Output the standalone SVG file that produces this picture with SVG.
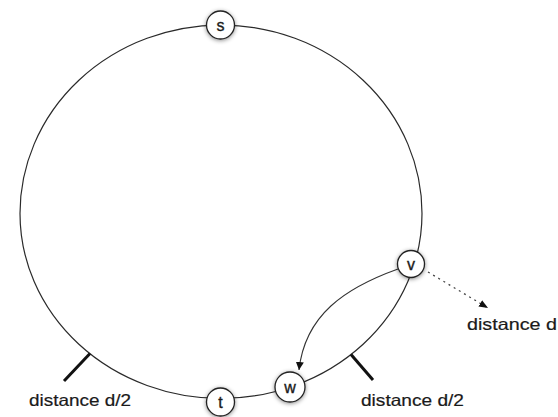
<svg xmlns="http://www.w3.org/2000/svg" width="558" height="417" viewBox="0 0 558 417">
  <style>
    .ring { fill: none; stroke: #2a2a2a; stroke-width: 1.2; }
    .tick { stroke: #111; stroke-width: 3; stroke-linecap: butt; }
    .node circle { fill: #fff; stroke: #222; stroke-width: 1.3; filter: url(#shadow); }
    .node text { font-family: "Liberation Sans", Arial, sans-serif; font-size: 16px; fill: #1a1a1a; stroke: #1a1a1a; stroke-width: 0.35; text-anchor: middle; }
    .label { font-family: "Liberation Sans", Arial, sans-serif; font-size: 16.5px; fill: #1a1a1a; stroke: #1a1a1a; stroke-width: 0.2; }
    .edge { fill: none; stroke: #333; stroke-width: 1.1; }
    .dotted { fill: none; stroke: #444; stroke-width: 1.3; stroke-dasharray: 2 4; }
  </style>
  <defs>
    <filter id="shadow" x="-50%" y="-50%" width="200%" height="200%">
      <feDropShadow dx="0" dy="1" stdDeviation="2" flood-color="#000" flood-opacity="0.45"/>
    </filter>
    <marker id="arrow" viewBox="0 0 10 10" refX="10" refY="5" markerWidth="8" markerHeight="8" markerUnits="userSpaceOnUse" orient="auto">
      <path d="M0,0 L10,5 L0,10 Z" fill="#111"/>
    </marker>
    <marker id="arrow2" viewBox="0 0 10 10" refX="10" refY="5" markerWidth="9" markerHeight="9" markerUnits="userSpaceOnUse" orient="auto">
      <path d="M0,1 L10,5 L0,9 Z" fill="#111"/>
    </marker>
  </defs>

  <g id="connectors">
    <path id="ring" class="ring" d="M20,213.5 A201,188.5 0 0 1 422,213.5 A201,185 0 0 1 20,213.5 Z"/>
    <path id="edge-v-w" class="edge" d="M398,269 C345,288 305,315 299,370" marker-end="url(#arrow)"/>
    <path id="edge-v-d" class="dotted" d="M428,272 L488,308" marker-end="url(#arrow2)"/>
    <line id="tick-left" class="tick" x1="90" y1="353.5" x2="64" y2="381"/>
    <line id="tick-right" class="tick" x1="351" y1="354.5" x2="373" y2="380"/>
  </g>

  <g id="node-s" class="node">
    <circle cx="220.5" cy="25" r="14"/>
    <text x="220.5" y="30.5">s</text>
  </g>
  <g id="node-v" class="node">
    <circle cx="411" cy="264" r="13.5"/>
    <text x="411" y="269.5">v</text>
  </g>
  <g id="node-w" class="node">
    <circle cx="290" cy="387" r="15"/>
    <text x="290" y="392.5">w</text>
  </g>
  <g id="node-t" class="node">
    <circle cx="220.5" cy="402" r="14"/>
    <text x="220.5" y="408">t</text>
  </g>

  <g id="labels">
    <text class="label" x="29" y="406" textLength="102" lengthAdjust="spacingAndGlyphs">distance d/2</text>
    <text class="label" x="361" y="406" textLength="103" lengthAdjust="spacingAndGlyphs">distance d/2</text>
    <text class="label" x="467" y="330" textLength="90" lengthAdjust="spacingAndGlyphs">distance d</text>
  </g>
</svg>
